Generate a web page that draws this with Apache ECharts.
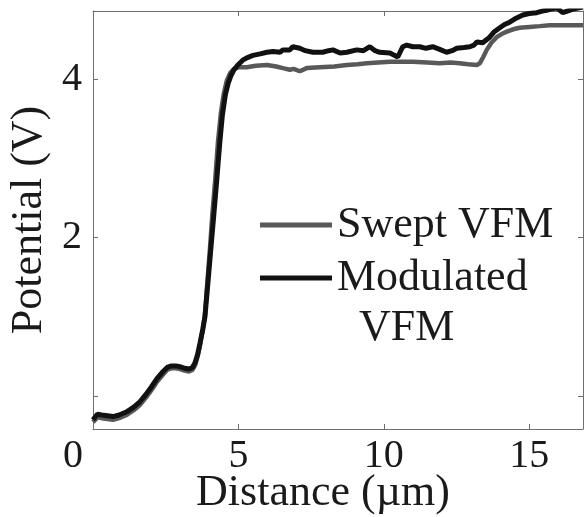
<!DOCTYPE html>
<html>
<head>
<meta charset="utf-8">
<script src="https://cdn.jsdelivr.net/npm/echarts@6/dist/echarts.min.js"></script>
<style>
  html, body { margin: 0; padding: 0; background: #ffffff; }
  #chart { width: 584px; height: 517px; }
</style>
</head>
<body>
<div id="chart"></div>
<script>
// Surface potential profiles across the junction (distance in µm, potential in V)
const sweptX = [0.00, 0.15, 0.30, 0.50, 0.69, 0.90, 1.16, 1.40, 1.62, 1.82, 2.02, 2.20, 2.41, 2.55, 2.70, 2.85, 2.99, 3.15, 3.30, 3.42, 3.51, 3.60, 3.68, 3.78, 3.85, 3.93, 4.02, 4.10, 4.20, 4.30, 4.40, 4.50, 4.60, 4.72, 4.85, 5.00, 5.29, 5.60, 5.98, 6.30, 6.53, 6.77, 6.90, 7.11, 7.35, 7.80, 8.30, 8.73, 9.10, 9.42, 9.80, 10.21, 10.60, 11.00, 11.50, 11.92, 12.30, 12.61, 12.90, 13.20, 13.30, 13.42, 13.54, 13.70, 13.88, 14.05, 14.23, 14.45, 14.67, 15.00, 15.36, 15.70, 16.05, 16.40, 16.85];
const sweptV = [-0.33, -0.27, -0.28, -0.29, -0.30, -0.28, -0.24, -0.18, -0.11, -0.02, 0.08, 0.18, 0.27, 0.33, 0.35, 0.35, 0.34, 0.32, 0.31, 0.33, 0.39, 0.50, 0.64, 0.85, 1.02, 1.42, 1.85, 2.27, 2.72, 3.22, 3.58, 3.82, 3.98, 4.08, 4.13, 4.15, 4.15, 4.17, 4.18, 4.16, 4.14, 4.12, 4.13, 4.10, 4.14, 4.15, 4.16, 4.18, 4.19, 4.20, 4.21, 4.22, 4.22, 4.22, 4.21, 4.20, 4.21, 4.20, 4.19, 4.18, 4.20, 4.28, 4.37, 4.46, 4.53, 4.57, 4.60, 4.63, 4.65, 4.66, 4.67, 4.68, 4.68, 4.68, 4.68];

const modX = [0.00, 0.15, 0.30, 0.50, 0.69, 0.90, 1.16, 1.40, 1.62, 1.82, 2.02, 2.20, 2.41, 2.55, 2.70, 2.85, 2.99, 3.15, 3.30, 3.42, 3.51, 3.60, 3.68, 3.78, 3.85, 3.95, 4.05, 4.15, 4.25, 4.36, 4.45, 4.55, 4.65, 4.75, 4.85, 4.98, 5.15, 5.29, 5.50, 5.75, 5.98, 6.20, 6.43, 6.53, 6.77, 6.87, 7.11, 7.30, 7.56, 7.90, 8.10, 8.25, 8.50, 8.73, 9.07, 9.30, 9.52, 9.70, 9.86, 10.21, 10.48, 10.65, 10.79, 11.00, 11.24, 11.45, 11.68, 11.90, 12.16, 12.35, 12.51, 12.75, 12.96, 13.10, 13.20, 13.40, 13.64, 13.80, 13.99, 14.15, 14.33, 14.55, 14.78, 15.00, 15.26, 15.45, 15.60, 15.80, 15.95, 16.15, 16.39, 16.55, 16.85];
const modV = [-0.30, -0.23, -0.24, -0.25, -0.26, -0.24, -0.20, -0.14, -0.07, 0.02, 0.12, 0.22, 0.31, 0.36, 0.38, 0.38, 0.37, 0.35, 0.34, 0.36, 0.42, 0.53, 0.67, 0.85, 1.00, 1.42, 1.85, 2.27, 2.70, 3.20, 3.55, 3.80, 3.95, 4.05, 4.12, 4.18, 4.24, 4.27, 4.30, 4.32, 4.34, 4.35, 4.34, 4.37, 4.37, 4.41, 4.39, 4.36, 4.34, 4.34, 4.36, 4.37, 4.33, 4.34, 4.37, 4.36, 4.41, 4.36, 4.34, 4.33, 4.28, 4.41, 4.43, 4.41, 4.41, 4.39, 4.41, 4.38, 4.34, 4.36, 4.39, 4.40, 4.41, 4.43, 4.47, 4.46, 4.53, 4.60, 4.65, 4.69, 4.72, 4.77, 4.81, 4.83, 4.84, 4.86, 4.87, 4.89, 4.90, 4.84, 4.87, 4.89, 4.91];

const xTicks = [0, 5, 10, 15];
const yTicks = [0, 2, 4];
const yLabels = [2, 4];

const FONT = 'Liberation Serif';
const INK = '#1a1a1a';
const FRAME = '#6e6e6e';

const pairs = (xs, ys) => xs.map((x, i) => [x, ys[i]]);

const xRange = { min: 0, max: 16.85 };
const yRange = { min: -0.417, max: 4.861 };

const chart = echarts.init(document.getElementById('chart'), null, { renderer: 'canvas' });

chart.setOption({
  animation: false,
  backgroundColor: '#ffffff',
  grid: { left: 93, right: 1, top: 11, bottom: 88, containLabel: false, outerBoundsMode: 'none' },
  legend: [
    {
      data: ['Swept VFM'],
      left: 260, top: 202, padding: 0,
      orient: 'vertical',
      icon: 'rect', itemWidth: 72, itemHeight: 5, itemGap: 0,
      textStyle: { fontFamily: FONT, fontSize: 44, color: INK, lineHeight: 46 }
    },
    {
      data: ['Modulated VFM'],
      left: 260, top: 203, padding: 0,
      orient: 'vertical',
      icon: 'rect', itemWidth: 72, itemHeight: 5, itemGap: 0,
      // blank first line keeps the sample bar level with "Modulated"
      formatter: () => '\nModulated\n  VFM',
      textStyle: { fontFamily: FONT, fontSize: 44, color: INK, lineHeight: 50 }
    }
  ],
  xAxis: [
    {
      type: 'value', position: 'bottom', min: xRange.min, max: xRange.max,
      name: 'Distance (µm)', nameLocation: 'middle', nameGap: 42, nameMoveOverlap: false,
      nameTextStyle: { fontFamily: FONT, fontSize: 44, color: INK, padding: [0, 30, 0, 0] },
      axisLine: { show: true, onZero: false, lineStyle: { color: FRAME, width: 1 } },
      axisTick: { show: true, inside: true, length: 5, customValues: xTicks, lineStyle: { color: FRAME } },
      axisLabel: {
        show: true, margin: 7, customValues: xTicks,
        fontFamily: FONT, fontSize: 40, color: INK,
        formatter: v => (v === 0 ? '{z|0}' : String(v)),
        rich: { z: { fontFamily: FONT, fontSize: 40, color: INK, padding: [0, 40, 0, 0] } }
      },
      splitLine: { show: false }
    },
    {
      type: 'value', position: 'top', min: xRange.min, max: xRange.max,
      axisLine: { show: true, onZero: false, lineStyle: { color: FRAME, width: 1 } },
      axisTick: { show: true, inside: true, length: 5, customValues: xTicks, lineStyle: { color: FRAME } },
      axisLabel: { show: false },
      splitLine: { show: false }
    }
  ],
  yAxis: [
    {
      type: 'value', position: 'left', min: yRange.min, max: yRange.max,
      name: 'Potential (V)', nameLocation: 'middle', nameGap: 42, nameRotate: 90, nameMoveOverlap: false,
      nameTextStyle: { fontFamily: FONT, fontSize: 44, color: INK },
      axisLine: { show: true, onZero: false, lineStyle: { color: FRAME, width: 1 } },
      axisTick: { show: true, inside: true, length: 5, customValues: yTicks, lineStyle: { color: FRAME } },
      axisLabel: { show: true, margin: 11, customValues: yLabels, fontFamily: FONT, fontSize: 40, color: INK },
      splitLine: { show: false }
    },
    {
      type: 'value', position: 'right', min: yRange.min, max: yRange.max,
      axisLine: { show: true, onZero: false, lineStyle: { color: FRAME, width: 1 } },
      axisTick: { show: true, inside: true, length: 5, customValues: yTicks, lineStyle: { color: FRAME } },
      axisLabel: { show: false },
      splitLine: { show: false }
    }
  ],
  series: [
    {
      name: 'Swept VFM', type: 'line', xAxisIndex: 0, yAxisIndex: 0,
      data: pairs(sweptX, sweptV),
      showSymbol: false, smooth: false, clip: true,
      color: '#595959',
      lineStyle: { color: '#595959', width: 4.5 }
    },
    {
      name: 'Modulated VFM', type: 'line', xAxisIndex: 0, yAxisIndex: 0,
      data: pairs(modX, modV),
      showSymbol: false, smooth: false, clip: true,
      color: '#111111',
      lineStyle: { color: '#111111', width: 5 }
    }
  ]
});
</script>
</body>
</html>
